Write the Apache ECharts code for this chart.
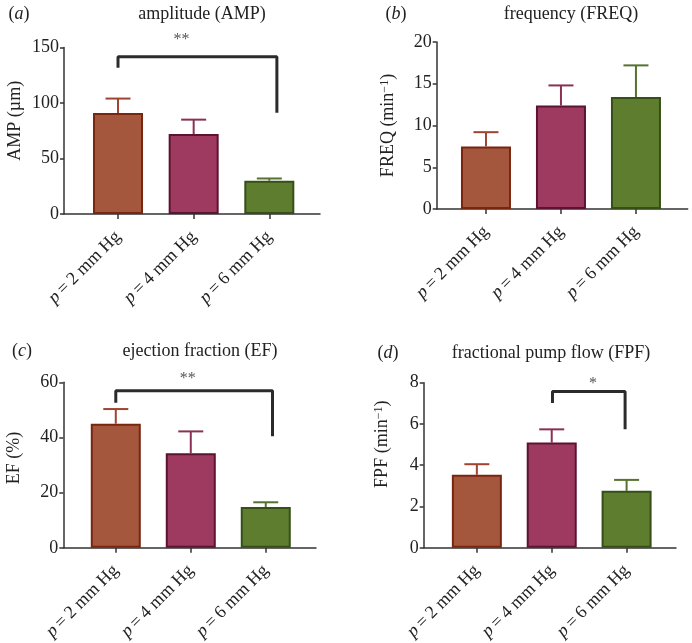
<!DOCTYPE html>
<html><head><meta charset="utf-8">
<script src="https://cdn.jsdelivr.net/npm/echarts@6/dist/echarts.min.js"></script>
<style>html,body{margin:0;padding:0;background:#fff}#c{width:692px;height:643px}</style>
</head><body><div id="c"></div>
<script>
// ---- data ----
const pressures = ['2', '4', '6'];
const ampMean = [91, 72, 30];
const ampErr = [13, 13, 2];
const freqMean = [7.5, 12.4, 13.4];
const freqErr = [1.7, 2.4, 3.8];
const efMean = [45, 34.3, 14.8];
const efErr = [5.3, 7.9, 1.7];
const fpfMean = [3.54, 5.1, 2.76];
const fpfErr = [0.51, 0.64, 0.53];
const yTicksAmp = [0, 150, 50];
const yTicksFreq = [0, 20, 5];
const yTicksEf = [0, 60, 20];
const yTicksFpf = [0, 8, 2];
// significance brackets: [xLeft, xRight, yTop, yLeftBottom, yRightBottom]
const sigAmp = [0, 2.1, 141.7, 131.8, 91.3];
const sigEf = [0, 2.09, 56.9, 52.6, 40.4];
const sigFpf = [1.01, 1.98, 7.57, 7.02, 5.74];
// star labels: [text, x, y]
const starAmp = ['**', 0.84, 156.5];
const starEf = ['**', 0.96, 61.4];
const starFpf = ['*', 1.55, 7.95];

// ---- styles ----
const fills = ['#A5573D', '#9E3A5F', '#5E7D2E'];
const borders = ['#7A2510', '#5C1332', '#354F17'];
const errColors = ['#9E4430', '#8A3055', '#557230'];
const FONT = '"Liberation Serif", "DejaVu Serif", serif';

const panels = [
  {letter: 'a', title: 'amplitude (AMP)', yname: 'AMP (µm)', mean: ampMean, err: ampErr, ticks: yTicksAmp, sig: sigAmp, star: starAmp,
   grid: {left: 64, top: 47.5, width: 256, height: 166.5}, xr: [-0.714, 2.67], nameGap: 40, namePad: 20,
   titlePos: [197, 0], letterPos: [14, 0]},
  {letter: 'b', title: 'frequency (FREQ)', yname: '{t|FREQ (min}{s|−1}{t|)}', mean: freqMean, err: freqErr, ticks: yTicksFreq, sig: null, star: null,
   grid: {left: 436.7, top: 42, width: 251, height: 167}, xr: [-0.657, 2.69], nameGap: 38, namePad: 0,
   titlePos: [566, 0], letterPos: [391, 0]},
  {letter: 'c', title: 'ejection fraction (EF)', yname: 'EF (%)', mean: efMean, err: efErr, ticks: yTicksEf, sig: sigEf, star: starEf,
   grid: {left: 63.3, top: 382.3, width: 252.7, height: 166.4}, xr: [-0.70, 2.67], nameGap: 40, namePad: 14,
   titlePos: [195, 337], letterPos: [17, 337]},
  {letter: 'd', title: 'fractional pump flow (FPF)', yname: '{t|FPF (min}{s|−1}{t|)}', mean: fpfMean, err: fpfErr, ticks: yTicksFpf, sig: sigFpf, star: starFpf,
   grid: {left: 423.7, top: 382.7, width: 252.3, height: 167.3}, xr: [-0.71, 2.66], nameGap: 31, namePad: 42,
   titlePos: [546, 339], letterPos: [383, 339]}
];

const option = {
  animation: false,
  backgroundColor: '#fff',
  textStyle: {fontFamily: FONT},
  grid: [], xAxis: [], yAxis: [], series: [], title: []
};

panels.forEach((p, k) => {
  option.grid.push(p.grid);
  option.title.push({
    text: p.title, left: p.titlePos[0], top: p.titlePos[1], textAlign: 'center',
    textStyle: {fontFamily: FONT, fontSize: 18, fontWeight: 'normal', color: '#222'}
  });
  option.title.push({
    text: '({i|' + p.letter + '})', left: p.letterPos[0], top: p.letterPos[1], textAlign: 'center',
    textStyle: {fontFamily: FONT, fontSize: 18, fontWeight: 'normal', color: '#222',
      rich: {i: {fontFamily: FONT, fontSize: 18, fontStyle: 'italic', color: '#222'}}}
  });
  option.xAxis.push({
    gridIndex: k, type: 'value', min: p.xr[0], max: p.xr[1],
    splitLine: {show: false},
    axisLine: {show: true, onZero: false, lineStyle: {color: '#333', width: 1.5}},
    axisTick: {show: true, customValues: [0, 1, 2], length: 5, lineStyle: {color: '#333', width: 1.5}},
    axisLabel: {
      customValues: [0, 1, 2], rotate: 45, margin: 20, color: '#222',
      fontFamily: FONT, fontSize: 18,
      formatter: v => '{i|p}\u2009=\u2009' + pressures[Math.round(v)] + ' mm Hg',
      rich: {i: {fontFamily: FONT, fontSize: 18, fontStyle: 'italic', color: '#222'}}
    }
  });
  option.yAxis.push({
    gridIndex: k, type: 'value', min: p.ticks[0], max: p.ticks[1], interval: p.ticks[2],
    splitLine: {show: false},
    axisLine: {show: true, onZero: false, lineStyle: {color: '#333', width: 1.5}},
    axisTick: {show: true, length: 4, lineStyle: {color: '#333', width: 1.5}},
    axisLabel: {color: '#222', fontFamily: FONT, fontSize: 18, margin: 5},
    name: p.yname, nameLocation: 'middle', nameGap: p.nameGap, nameRotate: 90,
    nameTextStyle: {fontFamily: FONT, fontSize: 18, color: '#222', padding: [0, 0, 0, p.namePad],
      rich: {t: {fontFamily: FONT, fontSize: 18, color: '#222'},
             s: {fontFamily: FONT, fontSize: 12, color: '#222', verticalAlign: 'top', padding: [0, 0, 8, 0]}}}
  });
  // error bars (drawn beneath bars)
  option.series.push({
    type: 'custom', xAxisIndex: k, yAxisIndex: k, z: 1, clip: false,
    data: p.mean.map((m, i) => [i, m, p.err[i]]),
    renderItem: (params, api) => {
      const i = params.dataIndex;
      const base = api.coord([api.value(0), api.value(1)]);
      const top = api.coord([api.value(0), api.value(1) + api.value(2)]);
      const st = {stroke: errColors[i], lineWidth: 2};
      return {type: 'group', children: [
        {type: 'line', shape: {x1: base[0], y1: base[1], x2: top[0], y2: top[1]}, style: st},
        {type: 'line', shape: {x1: top[0] - 12.5, y1: top[1], x2: top[0] + 12.5, y2: top[1]}, style: st}
      ]};
    }
  });
  option.series.push({
    type: 'bar', xAxisIndex: k, yAxisIndex: k, z: 2, barWidth: 50,
    data: p.mean.map((m, i) => ({value: [i, m], itemStyle: {color: fills[i], borderColor: borders[i], borderWidth: 2}}))
  });
  if (p.sig) {
    const s = p.sig;
    option.series.push({
      type: 'line', xAxisIndex: k, yAxisIndex: k, z: 3, symbol: 'none', clip: false,
      lineStyle: {color: '#2b2b2b', width: 3}, itemStyle: {color: '#2b2b2b'},
      data: [[s[0], s[3]], [s[0], s[2]], [s[1], s[2]], [s[1], s[4]]]
    });
    option.series.push({
      type: 'custom', xAxisIndex: k, yAxisIndex: k, z: 3, clip: false,
      data: [[p.star[1], p.star[2]]],
      renderItem: (params, api) => {
        const c = api.coord([api.value(0), api.value(1)]);
        return {type: 'text', x: c[0], y: c[1], style: {text: p.star[0], fill: '#555', font: '16px ' + FONT, align: 'center', verticalAlign: 'middle'}};
      }
    });
  }
});

const chart = echarts.init(document.getElementById('c'), null, {renderer: 'canvas'});
chart.setOption(option);
</script>
</body></html>
